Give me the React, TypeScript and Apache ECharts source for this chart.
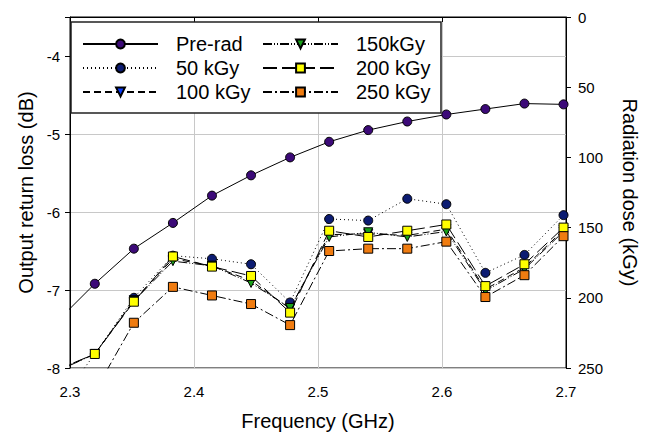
import { useEffect, useRef } from "react";
import * as echarts from "echarts";

const FONT = "Liberation Sans, Arial, sans-serif";

// Frequency (GHz); the first point lies just left of the visible range
const frequency = [2.2885, 2.32, 2.3515, 2.383, 2.4145, 2.446, 2.4775, 2.509, 2.5405, 2.572, 2.6035, 2.635, 2.6665, 2.698];

// Output return loss (dB)
const preRad = [-7.42, -6.92, -6.47, -6.14, -5.79, -5.53, -5.3, -5.1, -4.95, -4.84, -4.75, -4.68, -4.61, -4.62];
const kGy50 = [-8.5, -7.82, -7.1, -6.56, -6.6, -6.67, -7.16, -6.09, -6.11, -5.83, -5.9, -6.78, -6.55, -6.04];
const kGy100 = [-8.04, -7.82, -7.13, -6.6, -6.69, -6.88, -7.24, -6.29, -6.28, -6.3, -6.22, -6.99, -6.71, -6.23];
const kGy150 = [-8.05, -7.82, -7.14, -6.63, -6.69, -6.91, -7.23, -6.32, -6.26, -6.32, -6.25, -7.01, -6.73, -6.25];
const kGy200 = [-8.03, -7.82, -7.15, -6.57, -6.7, -6.82, -7.29, -6.24, -6.32, -6.24, -6.16, -6.95, -6.67, -6.2];
const kGy250 = [-8.9, -8.3, -7.42, -6.96, -7.07, -7.18, -7.45, -6.5, -6.47, -6.47, -6.38, -7.09, -6.81, -6.31];

const seriesNames = ["Pre-rad", "50 kGy", "100 kGy", "150kGy", "200 kGy", "250 kGy"];
const seriesValues = [preRad, kGy50, kGy100, kGy150, kGy200, kGy250];
const markerSymbols = ["circle", "circle", "triangle", "triangle", "rect", "rect"];
const markerRotate = [0, 0, 180, 180, 0, 0];
const markerColors = ["#3c0a78", "#0c1c72", "#0a3cff", "#18a018", "#ffff00", "#f07c10"];
const lineDash: (string | number[])[] = ["solid", [1, 3], [7, 4], [9, 2, 1, 2, 1, 2], [14, 5], [9, 3, 2, 3]];

// Axis ranges
const freqRange = [2.3, 2.7];
const lossRange = [-8, -3.5];
const doseRange = [0, 250];

export default function App() {
  const ref = useRef<HTMLDivElement>(null);
  useEffect(() => {
    if (!ref.current) return;
    const chart = echarts.init(ref.current, undefined, { renderer: "svg" });
    const series = seriesNames.map((name, i) => ({
      name,
      type: "line",
      yAxisIndex: 0,
      data: frequency.map((f, j) => [f, seriesValues[i][j]]),
      symbol: markerSymbols[i],
      symbolRotate: markerRotate[i],
      symbolSize: 9,
      clip: true,
      lineStyle: { color: "#000", width: 1, type: lineDash[i] },
      itemStyle: { color: markerColors[i], borderColor: "#000", borderWidth: 1 },
      emphasis: { disabled: true },
      z: 2 + i,
    }));
    const legendCommon = {
      orient: "vertical",
      top: 34,
      padding: 0,
      itemWidth: 75,
      itemHeight: 11,
      itemGap: 4,
      selectedMode: false,
      textStyle: {
        fontFamily: FONT,
        fontSize: 20,
        lineHeight: 20,
        color: "#000",
        padding: [0, 0, 0, 13],
      },
    };
    chart.setOption({
      animation: false,
      textStyle: { fontFamily: FONT },
      grid: { left: 70, right: 73, top: 17, bottom: 66, show: true, borderColor: "#000", borderWidth: 1 },
      legend: [
        { ...legendCommon, left: 82, data: seriesNames.slice(0, 3) },
        { ...legendCommon, left: 262, data: seriesNames.slice(3) },
      ],
      graphic: [
        {
          type: "rect",
          z: 3,
          shape: { x: 71, y: 22, width: 370, height: 91 },
          style: { fill: "#fff", stroke: "#222", lineWidth: 1.5 },
        },
      ],
      xAxis: {
        type: "value",
        min: freqRange[0],
        max: freqRange[1],
        interval: 0.1,
        name: "Frequency (GHz)",
        nameLocation: "middle",
        nameGap: 43,
        nameTextStyle: { fontSize: 20, color: "#000", fontFamily: FONT },
        axisLine: { show: true, lineStyle: { color: "#000" } },
        axisTick: { show: true, length: 5, lineStyle: { color: "#000" } },
        axisLabel: { fontSize: 15, color: "#000", margin: 16, fontFamily: FONT, formatter: (v: number) => v.toFixed(1) },
        splitLine: { show: true, lineStyle: { color: "#c8c8c8" } },
      },
      yAxis: [
        {
          type: "value",
          position: "left",
          min: lossRange[0],
          max: lossRange[1],
          interval: 1,
          name: "Output return loss (dB)",
          nameLocation: "middle",
          nameGap: 30,
          nameTextStyle: { fontSize: 20, color: "#000", fontFamily: FONT },
          axisLine: { show: true, lineStyle: { color: "#000" } },
          axisTick: { show: true, length: 5, lineStyle: { color: "#000" } },
          axisLabel: {
            fontSize: 15,
            color: "#000",
            margin: 10,
            fontFamily: FONT,
            formatter: (v: number) => (Number.isInteger(v) ? String(v) : ""),
          },
          splitLine: { show: true, lineStyle: { color: "#c8c8c8" } },
        },
        {
          type: "value",
          position: "right",
          min: doseRange[0],
          max: doseRange[1],
          interval: 50,
          inverse: true,
          name: "Radiation dose (kGy)",
          nameLocation: "middle",
          nameRotate: -90,
          nameGap: 54,
          nameTextStyle: { fontSize: 20, color: "#000", fontFamily: FONT },
          axisLine: { show: true, lineStyle: { color: "#000" } },
          axisTick: { show: true, length: 5, lineStyle: { color: "#000" } },
          axisLabel: { fontSize: 15, color: "#000", margin: 12, fontFamily: FONT },
          splitLine: { show: false },
        },
      ],
      series,
    });
    return () => chart.dispose();
  }, []);
  return <div ref={ref} style={{ width: 648, height: 436, position: "absolute", left: 0, top: 0 }} />;
}
